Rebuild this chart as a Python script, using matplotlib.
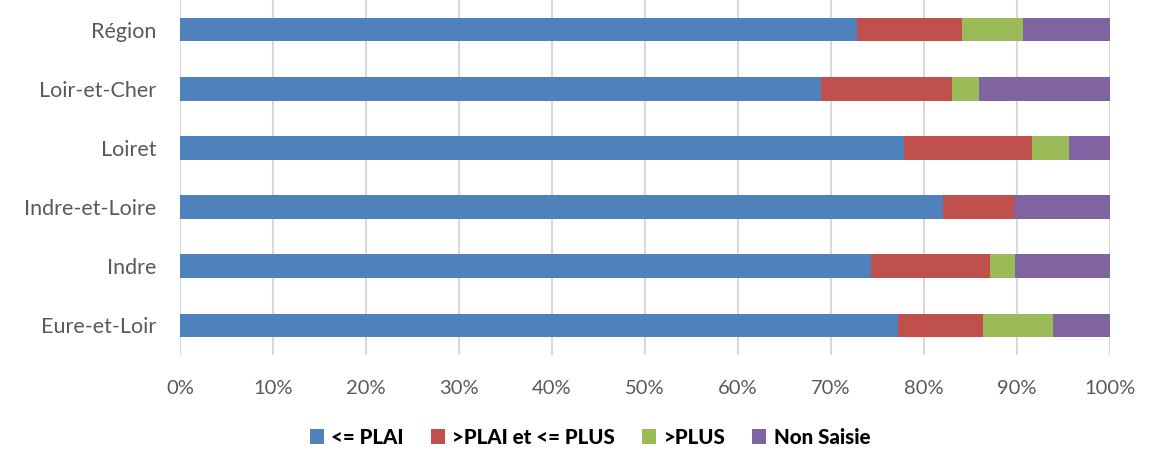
import numpy as np
import matplotlib.pyplot as plt

plt.rcParams['font.family'] = ['Lato', 'DejaVu Sans']

# categories from bottom to top
zones = ['Eure-et-Loir', 'Indre', 'Indre-et-Loire', 'Loiret', 'Loir-et-Cher', 'Région']
series = ['<= PLAI', '>PLAI et <= PLUS', '>PLUS', 'Non Saisie']
plai = [77.2, 74.3, 82.0, 77.9, 68.9, 72.8]
plai_plus = [9.1, 12.8, 7.7, 13.7, 14.1, 11.3]
plus = [7.6, 2.65, 0.0, 4.0, 2.9, 6.5]
non_saisie = [6.1, 10.25, 10.3, 4.4, 14.1, 9.4]
colors = ['#4F81BD', '#C0504D', '#9BBB59', '#8064A2']

fig = plt.figure(figsize=(11.66, 4.53), dpi=100)
ax = fig.add_axes([180 / 1166, 1 - 355 / 453, 930 / 1166, 355 / 453])

y = np.arange(len(zones))
left = np.zeros(len(zones))
for vals, name, c in zip([plai, plai_plus, plus, non_saisie], series, colors):
    vals = np.array(vals)
    ax.barh(y, vals, left=left, height=0.4, color=c, label=name, zorder=3)
    left = left + vals

ax.set_xlim(0, 100)
ax.set_ylim(-0.5, len(zones) - 0.5)
ax.set_xticks(np.arange(0, 101, 10))
ax.set_xticklabels(['%d%%' % v for v in range(0, 101, 10)])
ax.set_yticks(y)
ax.set_yticklabels(zones)
ax.grid(axis='x', color='#d9d9d9', linewidth=1.5, zorder=0)
for s in ax.spines.values():
    s.set_visible(False)
ax.tick_params(axis='x', length=0, labelsize=14.5, colors='#595959', pad=18)
ax.tick_params(axis='y', length=0, labelsize=15.5, colors='#595959', pad=17)

leg = fig.legend(loc='center', bbox_to_anchor=(590 / 1166, 1 - 437 / 453), ncol=4,
                 frameon=False, handlelength=0.7, handleheight=0.7,
                 handletextpad=0.35, columnspacing=1.3,
                 prop={'weight': 'black', 'size': 14.8})

fig.savefig('out.png', dpi=100)
